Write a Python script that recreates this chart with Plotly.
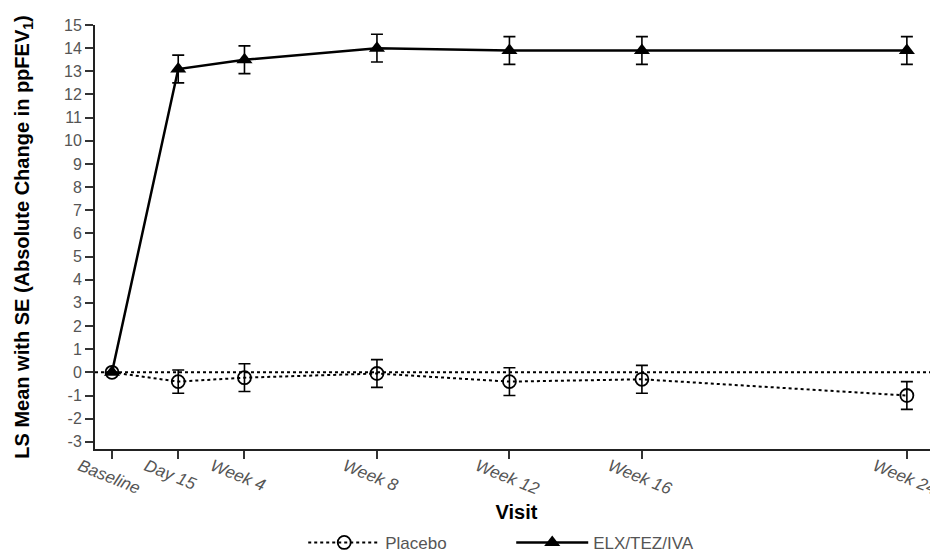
import plotly.graph_objects as go

visit_labels = ["Baseline", "Day 15", "Week 4", "Week 8", "Week 12", "Week 16", "Week 24"]
visit_weeks = [0, 2, 4, 8, 12, 16, 24]

placebo_mean = [0.0, -0.4, -0.23, -0.05, -0.4, -0.3, -1.0]
placebo_se = [0.0, 0.5, 0.6, 0.6, 0.6, 0.6, 0.6]

elx_mean = [0.0, 13.1, 13.5, 14.0, 13.9, 13.9, 13.9]
elx_se = [0.0, 0.6, 0.6, 0.6, 0.6, 0.6, 0.6]

y_ticks = list(range(-3, 16))
y_tick_text = [str(v) for v in y_ticks]

fig = go.Figure()

fig.add_shape(type="line", xref="paper", yref="y", x0=0, x1=1, y0=0, y1=0,
              line=dict(color="black", width=2, dash="dot"), layer="below")

fig.add_trace(go.Scatter(
    x=visit_weeks, y=placebo_mean, name="Placebo", mode="lines+markers",
    line=dict(color="black", width=2, dash="dot"),
    marker=dict(symbol="circle-open", size=13, color="black", line=dict(width=1.8)),
    error_y=dict(type="data", array=placebo_se, color="black", thickness=1.6, width=6),
))
fig.add_trace(go.Scatter(
    x=visit_weeks, y=elx_mean, name="ELX/TEZ/IVA", mode="lines+markers",
    line=dict(color="black", width=2.5),
    marker=dict(symbol="triangle-up", size=14, color="black"),
    error_y=dict(type="data", array=elx_se, color="black", thickness=1.6, width=6),
))

fig.update_layout(
    width=930, height=544,
    margin=dict(l=87, r=0, t=17, b=103, autoexpand=False),
    plot_bgcolor="white", paper_bgcolor="white",
    font=dict(family="Liberation Sans, Arial, sans-serif", color="black"),
    showlegend=True,
    legend=dict(orientation="h", x=0.247, xanchor="left", y=-0.179, yanchor="top",
                font=dict(size=17, color="#555555"), itemwidth=72,
                entrywidth=121, entrywidthmode="pixels"),
    xaxis=dict(
        range=[-0.513, 24.94], tickmode="array", tickvals=visit_weeks, ticktext=visit_labels,
        tickangle=22, ticks="outside", ticklen=8, tickwidth=1.5, tickcolor="#333",
        showline=True, linecolor="#222", linewidth=2, showgrid=False, zeroline=False,
        tickfont=dict(size=17, color="#555555", style="italic"),
        ticklabelshift=-32, ticklabelstandoff=-9, ticklabeloverflow="allow",
        automargin=False,
        title=dict(text="<b>Visit</b>", font=dict(size=20, color="black"), standoff=7),
    ),
    yaxis=dict(
        range=[-3.31, 15], tickmode="array", tickvals=y_ticks, ticktext=y_tick_text,
        ticks="outside", ticklen=8, tickwidth=1.5, tickcolor="#333",
        showline=True, linecolor="#222", linewidth=2, showgrid=False, zeroline=False,
        tickfont=dict(size=16, color="#555555"), automargin=False,
        title=dict(text="<b>LS Mean with SE (Absolute Change in ppFEV<sub>1</sub>)</b>",
                   font=dict(size=20, color="black"), standoff=29),
    ),
)

fig.write_html("out.html")
